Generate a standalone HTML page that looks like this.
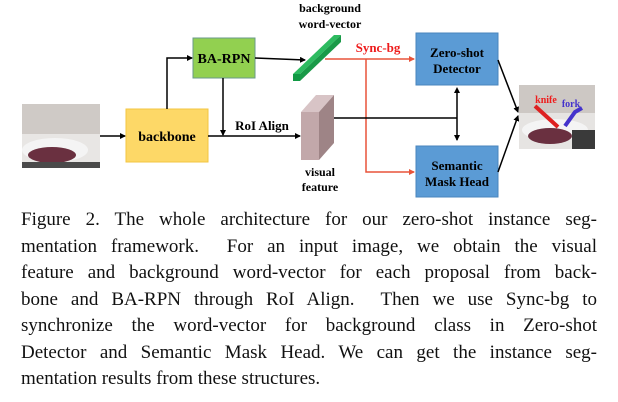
<!DOCTYPE html>
<html><head><style>
body{margin:0;width:618px;height:402px;background:#fff;position:relative;overflow:hidden;font-family:"Liberation Serif",serif}
.l{position:absolute;left:21px;width:576px;font-size:19px;line-height:20px;text-align:justify;text-align-last:justify;white-space:nowrap;color:#111}
.l.last{text-align-last:left}
</style></head><body>
<svg width="618" height="200" style="position:absolute;left:0;top:0" font-family="Liberation Serif" font-weight="bold">
<defs>
<marker id="a" markerWidth="6" markerHeight="6" refX="5" refY="3" orient="auto" markerUnits="userSpaceOnUse"><path d="M0,0L6,3L0,6z" fill="#000"/></marker>
<marker id="r" markerWidth="6" markerHeight="6" refX="5" refY="3" orient="auto" markerUnits="userSpaceOnUse"><path d="M0,0L6,3L0,6z" fill="#e8543a"/></marker>
<marker id="s" markerWidth="6" markerHeight="6" refX="1" refY="3" orient="auto-start-reverse" markerUnits="userSpaceOnUse"><path d="M0,0L6,3L0,6z" fill="#000"/></marker>
</defs>
<!-- left image -->
<rect x="22" y="104" width="78" height="64" fill="#e8e6e4"/>
<rect x="22" y="104" width="78" height="30" fill="#cfcac6"/>
<ellipse cx="55" cy="150" rx="33" ry="12" fill="#f4f4f4"/>
<ellipse cx="52" cy="155" rx="24" ry="8" fill="#6a3040"/>
<rect x="22" y="162" width="78" height="6" fill="#4a4a4a"/>
<!-- backbone -->
<rect x="126" y="109" width="82" height="53" fill="#fdd867" stroke="#f3c640"/>
<text x="167" y="141" text-anchor="middle" font-size="14">backbone</text>
<line x1="100" y1="136" x2="125" y2="136" stroke="#000" stroke-width="1.5" marker-end="url(#a)"/>
<!-- BA-RPN -->
<rect x="193" y="38" width="62" height="40" fill="#92d050" stroke="#6a9a8a"/>
<text x="224" y="63" text-anchor="middle" font-size="14">BA-RPN</text>
<polyline points="167,109 167,58 192,58" fill="none" stroke="#000" stroke-width="1.5" marker-end="url(#a)"/>
<line x1="223" y1="78" x2="223" y2="135" stroke="#000" stroke-width="1.5" marker-end="url(#a)"/>
<line x1="208" y1="136" x2="300" y2="136" stroke="#000" stroke-width="1.5" marker-end="url(#a)"/>
<text x="262" y="130" text-anchor="middle" font-size="13">RoI Align</text>
<line x1="255" y1="58" x2="305" y2="60" stroke="#000" stroke-width="1.5" marker-end="url(#a)"/>
<!-- green bar -->
<polygon points="293,74 334,35 341,35 300,74" fill="#2dbb60"/>
<polygon points="293,74 300,74 300,81 293,81" fill="#119944"/>
<polygon points="300,74 341,35 341,42 300,81" fill="#1a9a48"/>
<text x="330" y="12" text-anchor="middle" font-size="12">background</text>
<text x="330" y="28" text-anchor="middle" font-size="12">word-vector</text>
<!-- visual feature -->
<polygon points="301,112 316,95 334,95 319,112" fill="#d8c4c6"/>
<polygon points="319,112 334,95 334,143 319,160" fill="#9e8486"/>
<rect x="301" y="112" width="18" height="48" fill="#c2a8aa"/>
<text x="320" y="176" text-anchor="middle" font-size="12">visual</text>
<text x="320" y="191" text-anchor="middle" font-size="12">feature</text>
<!-- red -->
<line x1="325" y1="59" x2="414" y2="59" stroke="#e8543a" stroke-width="1.5" marker-end="url(#r)"/>
<polyline points="366,59 366,172 414,172" fill="none" stroke="#e8543a" stroke-width="1.5" marker-end="url(#r)"/>
<text x="378" y="52" text-anchor="middle" font-size="13" fill="#ee1c1c">Sync-bg</text>
<!-- boxes -->
<rect x="416" y="33" width="82" height="52" fill="#5b9bd5" stroke="#4a86bd"/>
<text x="457" y="57" text-anchor="middle" font-size="13">Zero-shot</text>
<text x="457" y="73" text-anchor="middle" font-size="13">Detector</text>
<rect x="416" y="146" width="82" height="51" fill="#5b9bd5" stroke="#4a86bd"/>
<text x="457" y="170" text-anchor="middle" font-size="13">Semantic</text>
<text x="457" y="186" text-anchor="middle" font-size="13">Mask Head</text>
<line x1="334" y1="118" x2="457" y2="118" stroke="#000" stroke-width="1.5"/>
<line x1="457" y1="92" x2="457" y2="140" stroke="#000" stroke-width="1.5" marker-start="url(#s)" marker-end="url(#a)"/>
<line x1="498" y1="60" x2="518" y2="112" stroke="#000" stroke-width="1.5" marker-end="url(#a)"/>
<line x1="498" y1="172" x2="518" y2="116" stroke="#000" stroke-width="1.5" marker-end="url(#a)"/>
<!-- right image -->
<rect x="519" y="85" width="76" height="64" fill="#e6e4e2"/>
<rect x="519" y="85" width="76" height="28" fill="#cdc8c4"/>
<ellipse cx="555" cy="130" rx="33" ry="11" fill="#f4f4f4"/>
<ellipse cx="550" cy="136" rx="22" ry="8" fill="#6a3040"/>
<rect x="572" y="130" width="23" height="19" fill="#3a3a3a"/>
<path d="M535,106 L558,127" stroke="#dd2020" stroke-width="4"/>
<path d="M565,126 L575,112 L582,108" stroke="#4433cc" stroke-width="4" fill="none"/>
<text x="546" y="103" text-anchor="middle" font-size="10" fill="#ee1c1c">knife</text>
<text x="571" y="107" text-anchor="middle" font-size="10" fill="#4433cc">fork</text>
</svg>
<div class="l" style="top:210px">Figure 2. The whole architecture for our zero-shot instance seg-</div>
<div class="l" style="top:237px">mentation framework. &nbsp;For an input image, we obtain the visual</div>
<div class="l" style="top:263px">feature and background word-vector for each proposal from back-</div>
<div class="l" style="top:290px">bone and BA-RPN through RoI Align. &nbsp;Then we use Sync-bg to</div>
<div class="l" style="top:316px">synchronize the word-vector for background class in Zero-shot</div>
<div class="l" style="top:343px">Detector and Semantic Mask Head. We can get the instance seg-</div>
<div class="l last" style="top:369px">mentation results from these structures.</div>
</body></html>
